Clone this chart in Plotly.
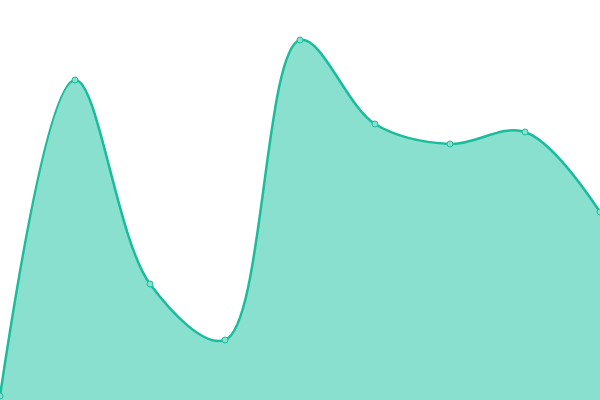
import plotly.graph_objects as go

x_values = [0, 1, 2, 3, 4, 5, 6, 7, 8]
y_values = [1, 80, 29, 15, 90, 69, 64, 67, 47]

line_color = '#1abc9c'
fill_color = '#8ae0cf'

fig = go.Figure()

fig.add_trace(
    go.Scatter(
        x=x_values,
        y=y_values,
        mode='lines+markers',
        line=dict(color=line_color, width=2.5, shape='spline', smoothing=1.0),
        marker=dict(size=6, color=fill_color, line=dict(color=line_color, width=1)),
        fill='tozeroy',
        fillcolor=fill_color,
        cliponaxis=False,
        showlegend=False,
        hoverinfo='skip'
    )
)

fig.update_layout(
    width=600,
    height=400,
    margin=dict(l=0, r=0, t=0, b=0),
    paper_bgcolor='white',
    plot_bgcolor='white',
    xaxis=dict(range=[0, 8], visible=False, fixedrange=True),
    yaxis=dict(range=[0, 100], visible=False, fixedrange=True),
)

# drop the default page margin so the chart sits flush in the window
fig.write_html(
    "out.html",
    config={'displayModeBar': False},
    post_script="document.body.style.margin='0';"
)
